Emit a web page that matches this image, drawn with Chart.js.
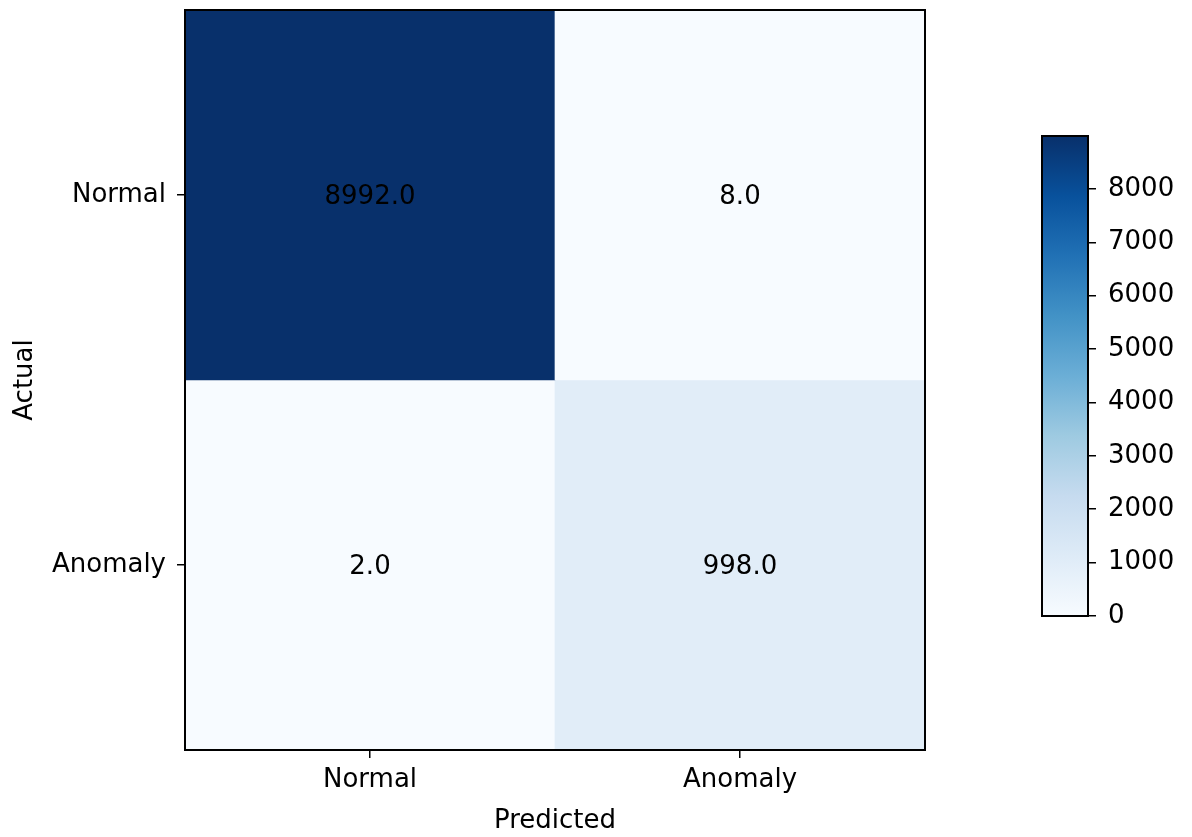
<!DOCTYPE html>
<html>
<head>
<meta charset="utf-8">
<script src="https://cdn.jsdelivr.net/npm/chart.js@4/dist/chart.umd.min.js"></script>
<style>
  body { margin: 0; background: #fff; }
  #wrap { position: relative; width: 1192px; height: 837px; }
  canvas { position: absolute; top: 0; }
  #matrix { left: 0; }
  #colorbar { left: 1000px; }
</style>
</head>
<body>
<div id="wrap">
  <canvas id="matrix" width="1000" height="837"></canvas>
  <canvas id="colorbar" width="192" height="837"></canvas>
</div>
<script>
// confusion matrix, rows = actual, columns = predicted
const predictedLabels = ['Normal', 'Anomaly'];
const actualLabels = ['Normal', 'Anomaly'];
const normalRow = [8992, 8];
const anomalyRow = [2, 998];
const colorbarTicks = [0, 1000, 2000, 3000, 4000, 5000, 6000, 7000, 8000];

const rows = [normalRow, anomalyRow];
const vmax = Math.max(...normalRow, ...anomalyRow);

// matplotlib "Blues"
const blues = [
  [247, 251, 255], [222, 235, 247], [198, 219, 239], [158, 202, 225],
  [107, 174, 214], [66, 146, 198], [33, 113, 181], [8, 81, 156], [8, 48, 107]
];
function blueFor(v) {
  const t = Math.min(1, Math.max(0, v / vmax)) * (blues.length - 1);
  const i = Math.min(blues.length - 2, Math.floor(t));
  const f = t - i;
  const c = blues[i].map((a, k) => Math.round(a + (blues[i + 1][k] - a) * f));
  return 'rgb(' + c.join(',') + ')';
}

const font = { family: 'DejaVu Sans', size: 26 };

const frame = {
  id: 'frame',
  afterDatasetsDraw(chart) {
    const { ctx, chartArea: a } = chart;
    ctx.save();
    ctx.strokeStyle = '#000';
    ctx.lineWidth = 2;
    ctx.strokeRect(a.left, a.top, a.right - a.left, a.bottom - a.top);
    ctx.restore();
  }
};

const cellText = {
  id: 'cellText',
  afterDatasetsDraw(chart) {
    const { ctx, scales: { x, y } } = chart;
    ctx.save();
    ctx.font = '26px "DejaVu Sans"';
    ctx.fillStyle = '#000';
    ctx.textAlign = 'center';
    ctx.textBaseline = 'middle';
    rows.forEach((row, i) => {
      row.forEach((v, j) => {
        ctx.fillText(v.toFixed(1), x.getPixelForValue(j), y.getPixelForValue(i + 0.5) + 2);
      });
    });
    ctx.restore();
  }
};

new Chart(document.getElementById('matrix'), {
  type: 'bar',
  data: {
    labels: predictedLabels,
    datasets: rows.map((row, i) => ({
      label: actualLabels[i],
      data: row.map(() => [i, i + 1]),
      backgroundColor: row.map(blueFor),
      borderWidth: 0,
      barPercentage: 1,
      categoryPercentage: 1,
      grouped: false
    }))
  },
  options: {
    responsive: false,
    animation: false,
    layout: { padding: { top: 10, right: 75, left: 0, bottom: 0 } },
    plugins: { legend: { display: false }, tooltip: { enabled: false } },
    scales: {
      x: {
        grid: { offset: false, drawOnChartArea: false, drawTicks: true, tickLength: 8, color: '#000', lineWidth: 1.5 },
        border: { display: false },
        ticks: { font, color: '#000', padding: 7, maxRotation: 0 },
        title: { display: true, text: 'Predicted', font, color: '#000', padding: { top: 0, bottom: 0 } },
        afterFit: s => { s.height = 87; s.paddingLeft = 0; s.paddingRight = 0; }
      },
      y: {
        type: 'linear',
        min: 0,
        max: 2,
        reverse: true,
        grid: { drawOnChartArea: false, drawTicks: true, tickLength: 8, color: '#000', lineWidth: 1.5 },
        border: { display: false },
        ticks: { font, color: '#000', padding: 11, callback: v => actualLabels[Math.floor(v)] },
        afterBuildTicks: s => { s.ticks = actualLabels.map((_, i) => ({ value: i + 0.5 })); },
        title: { display: true, text: 'Actual', font, color: '#000', padding: { top: 10, bottom: 0 } },
        afterFit: s => { s.width = 185; s.paddingTop = 0; s.paddingBottom = 0; }
      }
    }
  },
  plugins: [frame, cellText]
});

new Chart(document.getElementById('colorbar'), {
  type: 'bar',
  data: {
    labels: [''],
    datasets: [{
      data: [[0, vmax]],
      backgroundColor: (c) => {
        const { chart } = c;
        if (!chart.chartArea) return blueFor(vmax / 2);
        const y = chart.scales.y;
        const g = chart.ctx.createLinearGradient(0, y.getPixelForValue(0), 0, y.getPixelForValue(vmax));
        blues.forEach((b, i) => g.addColorStop(i / (blues.length - 1), 'rgb(' + b.join(',') + ')'));
        return g;
      },
      borderWidth: 0,
      barPercentage: 1,
      categoryPercentage: 1
    }]
  },
  options: {
    responsive: false,
    animation: false,
    layout: { padding: { top: 136, right: 0, left: 42, bottom: 221 } },
    plugins: { legend: { display: false }, tooltip: { enabled: false } },
    scales: {
      x: { display: false },
      y: {
        position: 'right',
        min: 0,
        max: vmax,
        grid: { drawOnChartArea: false, drawTicks: true, tickLength: 8, color: '#000', lineWidth: 1.5 },
        border: { display: false },
        ticks: { font, color: '#000', padding: 12, callback: v => String(v) },
        afterBuildTicks: s => { s.ticks = colorbarTicks.map(v => ({ value: v })); },
        afterFit: s => { s.width = 104; s.paddingTop = 0; s.paddingBottom = 0; }
      }
    }
  },
  plugins: [frame]
});
</script>
</body>
</html>
